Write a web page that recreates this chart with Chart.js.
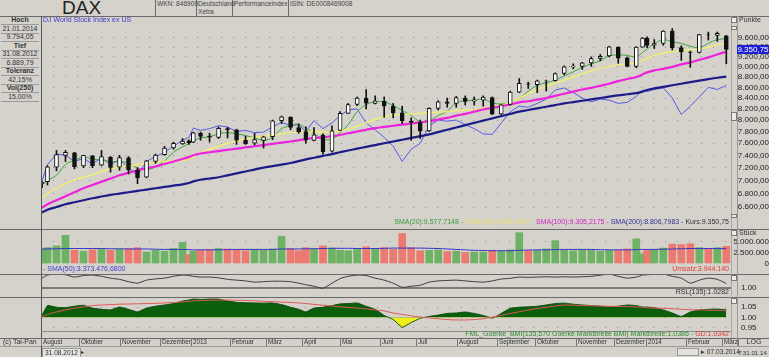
<!DOCTYPE html>
<html><head><meta charset="utf-8">
<script src="https://cdn.jsdelivr.net/npm/chart.js@4.4.1/dist/chart.umd.min.js"></script>
<style>
html,body{margin:0;padding:0}
body{width:769px;height:357px;overflow:hidden;background:#d5d2cc;font-family:Arial,"Liberation Sans",sans-serif;position:relative;color:#333}
.t{position:absolute;white-space:nowrap;font-size:7px;line-height:8px}
.h{font-size:6.6px;color:#444}
canvas{position:absolute;left:0}
.ln{position:absolute;background:#6a6a6a}
.btn{position:absolute;width:4px;height:4px;border:1px solid #7a7a7a;background:#ecebe8}
.lp{position:absolute;left:1px;width:38px;height:8px;line-height:8px;font-size:7px;text-align:center;border-bottom:1px solid #9a9a9a;color:#333}
.b{font-weight:bold}
.mb{position:absolute;top:338px;height:8px;line-height:8px;font-size:6.4px;letter-spacing:-0.1px;border-left:1px solid #777;padding-left:1px;box-sizing:border-box;overflow:hidden;white-space:nowrap;color:#333}
</style></head><body>

<!-- header -->
<div class="t" style="left:62px;top:-2px;font-size:19px;line-height:19px;color:#222">DAX</div>
<div class="ln" style="left:155px;top:0;width:1px;height:16px"></div>
<div class="ln" style="left:196px;top:0;width:1px;height:16px"></div>
<div class="ln" style="left:232px;top:0;width:1px;height:16px"></div>
<div class="ln" style="left:288px;top:0;width:1px;height:16px"></div>
<div class="t h" style="left:157px;top:0">WKN: 846900</div>
<div class="t h" style="left:198px;top:0">Deutschland</div>
<div class="t h" style="left:198px;top:8px">Xetra</div>
<div class="t h" style="left:234px;top:0">Performanceindex</div>
<div class="t h" style="left:290px;top:0">ISIN: DE0008469008</div>

<!-- left info panel -->
<div class="lp b" style="top:16px">Hoch</div>
<div class="lp" style="top:24.5px">21.01.2014</div>
<div class="lp" style="top:33px">9.794,05</div>
<div class="lp b" style="top:41.5px">Tief</div>
<div class="lp" style="top:50px">31.08.2012</div>
<div class="lp" style="top:58.5px">6.889,79</div>
<div class="lp b" style="top:67px">Toleranz</div>
<div class="lp" style="top:75.5px">42,15%</div>
<div class="lp b" style="top:84px">Vol(250)</div>
<div class="lp" style="top:92.5px">15,00%</div>

<canvas id="cMain" width="769" height="213" style="top:16px"></canvas>
<canvas id="cVol" width="769" height="45" style="top:229px"></canvas>
<canvas id="cRsl" width="769" height="23" style="top:274px"></canvas>
<canvas id="cBmi" width="769" height="41" style="top:297px"></canvas>

<!-- frame lines -->
<div class="ln" style="left:0;top:16px;width:769px;height:1px"></div>
<div class="ln" style="left:0;top:229px;width:769px;height:1px"></div>
<div class="ln" style="left:0;top:274px;width:769px;height:1px"></div>
<div class="ln" style="left:0;top:297px;width:769px;height:1px"></div>
<div class="ln" style="left:0;top:338px;width:769px;height:1px"></div>
<div class="ln" style="left:0;top:346px;width:769px;height:1px;background:#9a9a9a"></div>
<div class="ln" style="left:41px;top:16px;width:1px;height:341px;background:#555"></div>
<div class="ln" style="left:41px;top:331px;width:690px;height:1px;background:#8a8a8a"></div>
<div class="ln" style="left:737px;top:16px;width:1px;height:330px;background:#9a9a9a"></div>
<div class="ln" style="left:731px;top:16px;width:1px;height:322px;background:#a8a8a8"></div>

<!-- small buttons in the scroll column -->
<div class="btn" style="left:731px;top:17px"></div>
<div class="btn" style="left:731px;top:26px;height:2px"></div>
<div class="btn" style="left:731px;top:112px;height:7px"></div>
<div class="btn" style="left:731px;top:214px;height:2px"></div>
<div class="btn" style="left:731px;top:230px"></div>
<div class="btn" style="left:731px;top:275px"></div>
<div class="btn" style="left:731px;top:298px"></div>

<!-- main panel texts -->
<div class="t" style="left:43px;top:16px;color:#3c3cd0">DJ World Stock Index ex US</div>
<div class="t" style="left:739px;top:16px">Punkte</div>
<div id="hl" class="t" style="left:737px;width:32px;background:#1e1ed6;color:#fff;font-size:8px;line-height:9px;text-align:center">9.350,75</div>
<div class="t" style="right:40px;top:218px">
<span style="color:#3a9a3a">SMA(20):9.577,7148 - </span><span style="color:#e6e07a">SMA(38):9.486,0837 - </span><span style="color:#d020c0">SMA(100):9.305,2175 - </span><span style="color:#303090">SMA(200):8.806,7983 - </span><span style="color:#333">Kurs:9.350,75</span></div>

<!-- volume texts -->
<div class="t" style="left:739px;top:229px">Stück</div>
<div class="t" style="left:43px;top:265px;color:#3c3cd0">- SMA(50):3.373.476,6800</div>
<div class="t" style="right:40px;top:265px;color:#e03a3a">Umsatz:3.944.140</div>

<!-- RSL text -->
<div class="t" style="right:40px;top:288px;color:#333">RSL(135):1.0282</div>

<!-- Goerke text -->
<div class="t" style="right:40px;top:330px"><span style="color:#2e8b2e">FML_Goerke_BMI(135,570 Goerke Marktbreite BMI) Marktbreite:1.0386 - </span><span style="color:#e03a3a">GD:1.0342</span></div>

<!-- bottom rows -->
<div class="t" style="left:3px;top:338px">(c) Tai-Pan</div>
<div class="t" style="left:738px;top:338px;width:31px;text-align:center;border-left:1px solid #777;box-sizing:border-box">LOG</div>
<div class="t" style="left:42px;top:348px;border:1px solid #999;padding:0 2px;background:#e4e2de;font-size:6.6px">31.08.2012</div>
<div class="t" style="left:81px;top:348px;font-size:6px">▸</div>
<div class="t" style="left:677px;top:348px;width:20px;height:6px;border:1px solid #999;background:#e4e2de"></div>
<div class="t" style="left:701px;top:348px;font-size:6.6px">▸ 07.03.2014</div>
<div class="t" style="left:738px;top:349px;font-size:6.2px">T:31.01.14</div>

<div id="months"></div>

<script>
// ---------------- DATA ----------------
const holidays = ['2012-12-24','2012-12-25','2012-12-26','2012-12-31','2013-01-01','2013-03-29','2013-04-01','2013-05-01','2013-12-24','2013-12-25','2013-12-26','2013-12-31','2014-01-01'];
const weekEnds = ['2012-08-31','2012-09-07','2012-09-14','2012-09-21','2012-09-28','2012-10-05','2012-10-12','2012-10-19','2012-10-26','2012-11-02','2012-11-09','2012-11-16','2012-11-23','2012-11-30','2012-12-07','2012-12-14','2012-12-21','2012-12-28',
'2013-01-04','2013-01-11','2013-01-18','2013-01-25','2013-02-01','2013-02-08','2013-02-15','2013-02-22','2013-03-01','2013-03-08','2013-03-15','2013-03-22','2013-03-29','2013-04-05','2013-04-12','2013-04-19','2013-04-26','2013-05-03','2013-05-10','2013-05-17','2013-05-24','2013-05-31','2013-06-07','2013-06-14','2013-06-21','2013-06-28','2013-07-05','2013-07-12','2013-07-19','2013-07-26','2013-08-02','2013-08-09','2013-08-16','2013-08-23','2013-08-30','2013-09-06','2013-09-13','2013-09-20','2013-09-27','2013-10-04','2013-10-11','2013-10-18','2013-10-25','2013-11-01','2013-11-08','2013-11-15','2013-11-22','2013-11-29','2013-12-06','2013-12-13','2013-12-20','2013-12-27',
'2014-01-03','2014-01-10','2014-01-17','2014-01-24','2014-01-31','2014-02-07','2014-02-14','2014-02-21','2014-02-28','2014-03-07'];

const opens  = [6950,6980,7210,7400,7440,7230,7390,7240,7370,7210,7360,7160,7050,7300,7410,7520,7590,7640,
7620,7770,7720,7700,7850,7830,7650,7600,7650,7710,7990,8050,7870,7800,7650,7740,7470,7820,8120,8280,8400,8300,8340,8250,8130,7980,7960,7810,8210,8330,8300,8400,8340,8360,8410,8110,8280,8510,8670,8650,8720,8730,8870,9000,9010,9080,9170,9220,9400,9180,9010,9400,
9590,9440,9480,9740,9390,9300,9290,9660,9650,9640];
const highs  = [6990,7230,7480,7480,7450,7400,7400,7480,7380,7400,7380,7200,7320,7420,7550,7620,7680,7660,
7790,7790,7770,7880,7870,7840,7720,7770,7720,8000,8070,8060,7930,7880,7870,7760,7900,8150,8300,8420,8557,8440,8420,8300,8250,8040,8000,8220,8350,8400,8430,8440,8420,8440,8420,8280,8530,8770,8700,8740,8740,8880,9020,9060,9090,9200,9250,9420,9410,9200,9410,9600,
9620,9560,9750,9794,9430,9320,9670,9720,9720,9650];
const lows   = [6890,6930,7150,7300,7180,7200,7200,7230,7130,7160,7100,6950,7040,7270,7400,7500,7580,7580,
7610,7650,7620,7680,7690,7580,7580,7570,7520,7660,7940,7830,7770,7600,7640,7420,7450,7820,8120,8260,8200,8290,8050,8040,7940,7650,7680,7800,8180,8230,8230,8270,8270,8250,8100,8100,8270,8500,8580,8500,8530,8720,8840,8960,8950,9010,9120,9200,9070,9000,8980,9400,
9390,9370,9440,9340,9130,8990,9280,9550,9520,9060];
const closes = [6970,7214,7412,7451,7216,7398,7232,7380,7203,7363,7163,7043,7310,7405,7518,7597,7636,7612,
7776,7715,7702,7857,7833,7652,7593,7661,7708,7986,8058,7871,7795,7658,7745,7459,7814,8122,8278,8398,8305,8348,8254,8127,7990,7959,7806,8212,8331,8300,8410,8338,8366,8416,8104,8275,8510,8675,8661,8725,8725,8869,9001,9010,9078,9168,9213,9405,9172,9006,9400,9589,
9435,9473,9742,9392,9306,9290,9663,9657,9692,9351];

const sma20  = [6930,7000,7080,7250,7320,7370,7340,7320,7300,7290,7280,7190,7170,7210,7310,7450,7540,7590,
7640,7690,7710,7760,7780,7760,7730,7690,7650,7700,7850,7900,7930,7850,7770,7670,7670,7780,7920,8150,8280,8330,8330,8260,8170,8080,7970,7990,8080,8160,8310,8350,8360,8380,8310,8290,8320,8390,8530,8640,8690,8740,8820,8900,8990,9060,9120,9220,9240,9230,9200,9290,
9360,9470,9560,9510,9480,9420,9390,9480,9560,9578];
const sma38  = [6730,6800,6880,6950,7010,7050,7090,7140,7180,7210,7230,7250,7270,7290,7300,7310,7320,7340,
7380,7440,7500,7550,7600,7640,7670,7700,7720,7740,7760,7780,7790,7795,7800,7790,7790,7810,7840,7890,7950,8010,8060,8090,8100,8110,8120,8130,8140,8150,8170,8180,8190,8210,8240,8270,8320,8400,8480,8560,8620,8680,8740,8800,8860,8920,8970,9010,9040,9060,9080,9120,
9170,9230,9280,9310,9330,9340,9360,9400,9450,9480];
const sma100 = [6590,6640,6700,6760,6820,6880,6930,6980,7030,7080,7120,7160,7190,7220,7260,7300,7340,7370,
7400,7430,7450,7470,7490,7510,7530,7550,7570,7590,7610,7630,7650,7670,7690,7700,7720,7740,7770,7800,7830,7860,7880,7900,7920,7940,7960,7980,8010,8040,8080,8110,8150,8190,8220,8250,8280,8320,8340,8370,8400,8440,8480,8520,8560,8590,8630,8670,8720,8760,8800,8850,
8890,8930,8960,9000,9050,9090,9140,9190,9250,9305];
const sma200 = [6520,6560,6600,6640,6670,6700,6730,6755,6780,6800,6820,6840,6860,6880,6900,6920,6940,6960,
6985,7010,7030,7050,7080,7110,7140,7170,7200,7225,7250,7275,7305,7335,7360,7390,7420,7450,7480,7510,7540,7570,7600,7630,7660,7690,7720,7750,7790,7830,7870,7910,7950,7990,8030,8070,8110,8150,8180,8210,8240,8270,8300,8325,8350,8375,8400,8425,8450,8470,8490,8520,
8550,8580,8610,8640,8670,8700,8730,8760,8785,8807];
// DJ World Stock Index ex US, drawn in DAX points
const djWorld = [7000,7250,7420,7400,7300,7350,7260,7360,7250,7330,7200,7080,7300,7380,7450,7550,7650,7700,
7860,7820,7850,7900,7880,7800,7820,7780,7790,7880,7960,7900,7920,7800,7990,7850,7950,8080,8180,8200,7950,7830,7700,7550,7300,7500,7600,7900,8000,7980,8000,7920,7850,7760,7750,7950,8150,8250,8230,8300,8380,8550,8590,8500,8400,8330,8380,8360,8300,8320,8430,8550,
8520,8560,8590,8400,8100,8250,8420,8600,8560,8640];
const priceTicks = [6600,6800,7000,7200,7400,7600,7800,8000,8200,8400,8600,8800,9000,9200,9400,9600];

// volume (shares)
const volume = [3.2,3.6,4.0,6.4,3.0,2.8,3.1,3.3,3.0,3.2,3.4,3.6,2.6,3.0,2.8,3.4,4.8,2.0,
2.8,3.0,3.2,3.4,3.3,3.1,2.9,3.2,3.0,3.3,6.2,3.4,2.9,3.6,3.2,4.0,3.5,3.0,2.9,3.2,3.8,3.4,3.6,3.2,6.8,3.6,2.9,3.0,3.1,2.7,2.8,2.5,2.6,2.6,3.0,2.8,3.1,7.0,2.9,3.0,3.3,5.2,3.0,2.9,3.2,3.0,2.8,3.0,3.1,3.3,5.6,2.2,
3.0,3.2,3.5,4.4,4.3,4.5,3.6,3.3,3.6,3.9].map(v=>v*1e6);
const volSma50 = [3.3,3.3,3.35,3.4,3.4,3.4,3.4,3.4,3.35,3.35,3.3,3.3,3.3,3.25,3.2,3.2,3.2,3.15,
3.1,3.1,3.1,3.1,3.15,3.2,3.2,3.2,3.2,3.2,3.3,3.3,3.3,3.35,3.35,3.4,3.45,3.45,3.45,3.4,3.4,3.4,3.45,3.5,3.5,3.5,3.5,3.45,3.4,3.3,3.2,3.1,3.0,2.95,2.9,2.9,2.9,3.0,3.05,3.1,3.1,3.15,3.2,3.2,3.2,3.2,3.15,3.1,3.1,3.1,3.15,3.2,
3.2,3.2,3.25,3.3,3.35,3.4,3.4,3.4,3.38,3.37].map(v=>v*1e6);
const volTicks = [0,2500000,5000000];

// RSL(135)
const rsl = [1.063,1.083,1.090,1.085,1.070,1.080,1.083,1.075,1.063,1.055,1.040,1.030,1.050,1.058,1.063,1.075,1.083,1.080,
1.075,1.070,1.070,1.065,1.055,1.050,1.045,1.037,1.040,1.043,1.043,1.040,1.030,1.020,1.010,0.997,1.030,1.060,1.075,1.083,1.080,1.063,1.050,1.030,1.003,1.010,1.017,1.037,1.045,1.048,1.050,1.045,1.040,1.037,1.045,1.057,1.062,1.070,1.068,1.070,1.072,1.070,1.072,1.070,1.072,1.075,1.082,1.090,1.075,1.063,1.070,1.083,
1.085,1.088,1.090,1.075,1.063,1.030,1.050,1.063,1.055,1.028];
const rslTicks = [1.00];

// Goerke Marktbreite BMI and its GD
const bmi = [1.012,1.058,1.050,1.048,1.055,1.060,1.046,1.040,1.037,1.051,1.040,1.027,1.046,1.055,1.061,1.068,1.080,1.085,
1.090,1.088,1.090,1.090,1.080,1.074,1.072,1.071,1.070,1.071,1.063,1.050,1.040,1.027,1.046,1.050,1.058,1.066,1.068,1.071,1.055,1.040,1.010,0.990,0.952,0.975,0.996,1.005,1.012,1.020,1.022,1.027,1.020,1.010,0.997,1.020,1.045,1.050,1.052,1.055,1.061,1.068,1.070,1.065,1.061,1.058,1.055,1.051,1.055,1.061,1.058,1.051,
1.051,1.048,1.037,1.022,1.005,1.027,1.037,1.040,1.041,1.038];
const bmiGd = [1.002,1.015,1.027,1.037,1.045,1.052,1.058,1.061,1.063,1.065,1.066,1.067,1.068,1.069,1.071,1.073,1.076,1.079,
1.081,1.083,1.084,1.085,1.085,1.084,1.083,1.081,1.079,1.077,1.075,1.073,1.071,1.068,1.064,1.060,1.056,1.052,1.049,1.046,1.042,1.037,1.032,1.022,1.015,1.008,1.002,0.998,0.994,0.990,0.988,0.988,0.990,0.994,1.002,1.010,1.020,1.028,1.037,1.044,1.050,1.056,1.061,1.060,1.058,1.057,1.056,1.055,1.054,1.053,1.052,1.050,
1.048,1.046,1.045,1.043,1.040,1.038,1.037,1.036,1.035,1.034];
const bmiTicks = [0.95,1.00,1.05];

// x-axis month labels
const monthNames  = ['August','Oktober','November','Dezember','2013','Februar','März','April','Mai','Juni','Juli','August','September','Oktober','November','Dezember','2014','Februar','März'];
const monthStarts = ['2012-08-31','2012-10-01','2012-11-01','2012-12-03','2013-01-02','2013-02-01','2013-03-01','2013-04-02','2013-05-02','2013-06-03','2013-07-01','2013-08-01','2013-09-02','2013-10-01','2013-11-01','2013-12-02','2014-01-02','2014-02-03','2014-03-03'];

// ---------------- helpers ----------------
const tdIndex = {};
(function(){ let d=Date.UTC(2012,7,31), end=Date.UTC(2014,2,7), n=0;
  while(d<=end){ const dt=new Date(d), wd=dt.getUTCDay(), s=dt.toISOString().slice(0,10);
    if(wd>0 && wd<6 && !holidays.includes(s)) tdIndex[s]=n++; d+=864e5; } })();
const nDays = Object.keys(tdIndex).length;
function weekCenter(fri){ const f=Date.parse(fri+'T00:00:00Z'); const idx=[];
  for(let k=4;k>=0;k--){ const s=new Date(f-k*864e5).toISOString().slice(0,10); if(s in tdIndex) idx.push(tdIndex[s]); }
  return (idx[0]+idx[idx.length-1])/2; }
const wx = weekEnds.map(weekCenter);
const X_MIN=-0.6, X_MAX=nDays-1+0.6;
function de(v,dec){ const s=Math.abs(v).toFixed(dec); let [i,f]=s.split('.'); i=i.replace(/\B(?=(\d{3})+(?!\d))/g,'.'); return (v<0?'-':'')+(f?i+','+f:i); }
const pts = arr => arr.map((v,i)=>({x:wx[i],y:v}));

Chart.defaults.font.family = 'Arial, "Liberation Sans", sans-serif';
Chart.defaults.font.size = 8;
Chart.defaults.color = '#222';
const AXW = 38;
// y axis on the right; tl = invisible tick length used as label offset
function yAxis(extra, tl, align, gridColor, gridWidth, dash){
  return Object.assign({position:'right',
    afterFit:s=>{s.width=AXW; s.paddingTop=0; s.paddingBottom=0;},
    grid:{drawTicks:true, tickLength:tl, tickColor:'rgba(0,0,0,0)', color:gridColor||'#8c8c8c', lineWidth:gridWidth||1},
    border:{display:false, dash:dash===undefined?[1,11]:dash},
    ticks:{padding:0, crossAlign:align, color:'#222', font:{size:8}, autoSkip:false}}, extra); }
function opts(y){ return {responsive:false, animation:false, devicePixelRatio:1, events:[],
  layout:{padding:{left:41,right:0,top:0,bottom:0}, autoPadding:false},
  plugins:{legend:{display:false}, tooltip:{enabled:false}},
  scales:{x:{type:'linear', min:X_MIN, max:X_MAX, display:false, offset:false}, y:y}}; }
const line = (arr,color,w,order,extra) => Object.assign({type:'line', data:pts(arr), borderColor:color, borderWidth:w, pointRadius:0, tension:0.35, order:order}, extra||{});

// ---------------- main price chart ----------------
const up = closes.map((c,i)=>c>=opens[i]);
const mainY = yAxis({type:'logarithmic', min:6287, max:10071,
    afterBuildTicks:s=>{s.ticks=priceTicks.map(v=>({value:v}));}}, 7, 'far');
mainY.ticks.callback = v=>de(v,2);
const main = new Chart(document.getElementById('cMain'), {
  data:{datasets:[
    {type:'bar', data:closes.map((c,i)=>({x:wx[i], y:[Math.min(opens[i],c), Math.max(opens[i],c)]})), barThickness:4, grouped:false,
      backgroundColor:up.map(u=>u?'#ffffff':'#111111'), borderColor:'#111', borderWidth:1, borderSkipped:false, order:0},
    {type:'bar', data:highs.map((h,i)=>({x:wx[i], y:[lows[i],h]})), barThickness:1, grouped:false, backgroundColor:'#111', order:1},
    line(djWorld,'#5a5ae8',1,5,{tension:0}),
    line(sma20,'#3aa53a',1,4),
    line(sma38,'#f2ee70',1.4,3),
    line(sma100,'#ee22dd',2.2,2),
    line(sma200,'#1c1c88',2.2,2)
  ]},
  options:opts(mainY)
});
document.getElementById('hl').style.top = (16+main.scales.y.getPixelForValue(closes[closes.length-1])-4.5)+'px';

// ---------------- volume ----------------
const volY = yAxis({min:-2390000, max:7840000,
    afterBuildTicks:s=>{s.ticks=volTicks.map(v=>({value:v}));}}, 5, 'far',
    c=>(c.tick && c.tick.value===0)?'rgba(0,0,0,0)':'#8c8c8c');
volY.ticks.callback = v=>de(v,0);
new Chart(document.getElementById('cVol'), {
  data:{datasets:[
    line(volSma50,'#3434c8',1,0,{tension:0.3}),
    {type:'bar', data:pts(volume), barThickness:7, grouped:false, order:1,
      backgroundColor:up.map(u=>u?'rgba(104,176,96,0.95)':'rgba(236,118,108,0.95)')}
  ]},
  options:opts(volY)
});

// ---------------- RSL ----------------
const rslY = yAxis({min:0.94, max:1.09,
    afterBuildTicks:s=>{s.ticks=rslTicks.map(v=>({value:v}));}}, 10, 'near', '#7c7c7c', 2, []);
rslY.ticks.callback = v=>v.toFixed(2);
new Chart(document.getElementById('cRsl'), {
  data:{datasets:[ line(rsl,'#3a3a3a',1,0,{tension:0.2}) ]},
  options:opts(rslY)
});

// ---------------- Goerke BMI ----------------
const bmiY = yAxis({min:0.90, max:1.10,
    afterBuildTicks:s=>{s.ticks=bmiTicks.map(v=>({value:v}));}}, 10, 'near');
bmiY.ticks.callback = v=>v.toFixed(2);
const bmiChart = new Chart(document.getElementById('cBmi'), {
  data:{datasets:[
    line(bmiGd,'#e05858',1,0,{tension:0.3}),
    line(bmi,'#0b4a0b',1,1,{tension:0.1, fill:{target:{value:1}, above:'#0b5e0b', below:'#eeee1a'}})
  ]},
  options:opts(bmiY)
});

// ---------------- month boxes from the x scale ----------------
const xs = bmiChart.scales.x;
const mdiv = document.getElementById('months');
const lefts = monthStarts.map(d=>Math.max(41, Math.round(xs.getPixelForValue(tdIndex[d]-0.5))));
monthNames.forEach((m,i)=>{
  const l = lefts[i], r = i<lefts.length-1 ? lefts[i+1] : 738;
  const el = document.createElement('div'); el.className='mb';
  el.style.left = l+'px'; el.style.width = (r-l)+'px'; el.textContent = m;
  mdiv.appendChild(el);
});
</script>
</body></html>
